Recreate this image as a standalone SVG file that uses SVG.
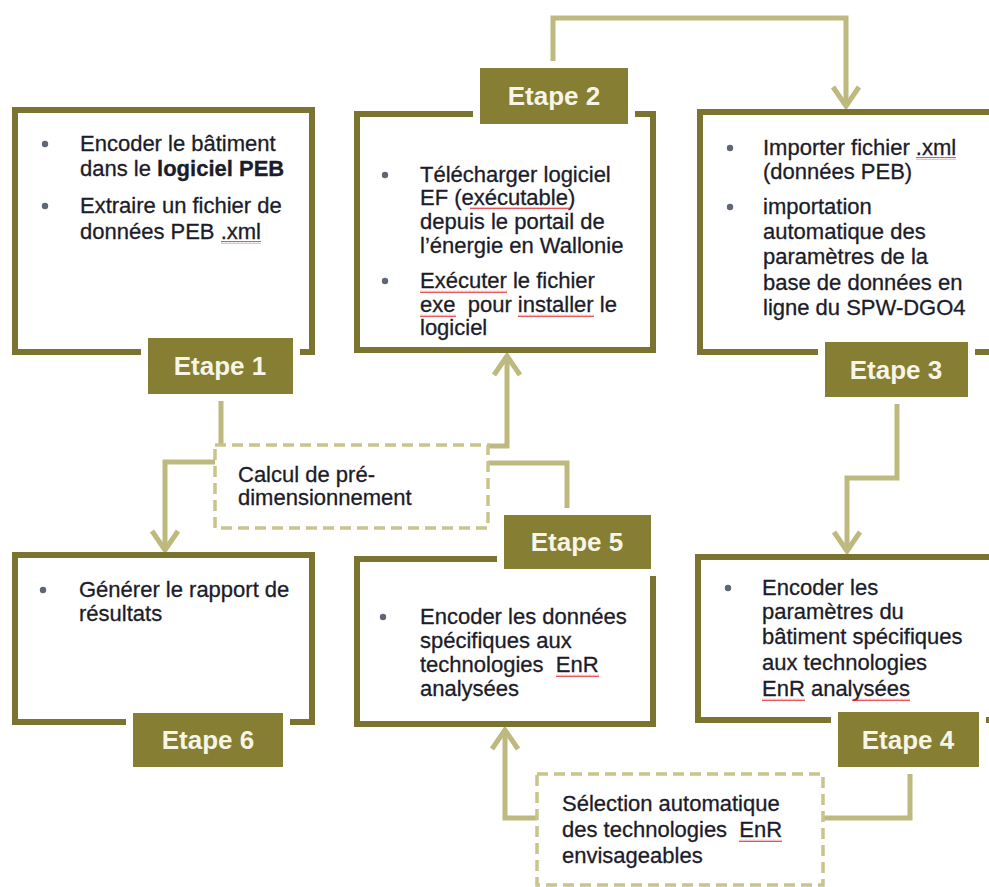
<svg xmlns="http://www.w3.org/2000/svg" width="989" height="887" viewBox="0 0 989 887">
<style>
.box{fill:#ffffff;stroke:#7b7431;stroke-width:6}
.lab{fill:#857e33;stroke:#ffffff;stroke-width:14;paint-order:stroke}
.labt{font-family:"Liberation Sans",Arial,sans-serif;font-weight:bold;font-size:26px;fill:#f7f5e6;text-anchor:middle}
.t{font-family:"Liberation Sans",Arial,sans-serif;font-size:22px;fill:#1c1c2a;stroke:#1c1c2a;stroke-width:0.3;white-space:pre}
.b{fill:#5f6675}
.con{fill:none;stroke:#bdb97f;stroke-width:5;stroke-linejoin:miter}
.dash{fill:#ffffff;stroke:#c8c48a;stroke-width:3.5;stroke-dasharray:11 6}
.sp{fill:url(#wave)}
</style>
<defs>
<marker id="ah" markerUnits="userSpaceOnUse" orient="auto" refX="0" refY="0" markerWidth="1" markerHeight="1" style="overflow:visible">
<path d="M-19,-13 L0,0 L-19,13" fill="none" stroke="#bdb97f" stroke-width="5"/>
</marker>
<pattern id="wave" patternUnits="userSpaceOnUse" width="4" height="3">
<path d="M0,2.2 L1,0.6 L2,2.2 L3,0.6 L4,2.2" fill="none" stroke="#e0373a" stroke-width="0.9"/>
</pattern>
</defs>
<rect width="989" height="887" fill="#ffffff"/>

<g id="connectors">
<path class="con" d="M553,61 V18 H846 V106" marker-end="url(#ah)"/>
<path class="con" d="M897,404 V478 H847 V551" marker-end="url(#ah)"/>
<path class="con" d="M221,401 V445"/>
<path class="con" d="M215,462 H165 V550" marker-end="url(#ah)"/>
<path class="con" d="M488,446 H507 V356" marker-end="url(#ah)"/>
<path class="con" d="M567,508 V463 H488"/>
<path class="con" d="M910,774 V818 H823"/>
<path class="con" d="M537,818 H505 V730" marker-end="url(#ah)"/>
</g>

<g id="calcul">
<rect class="dash" x="215" y="445" width="273" height="83"/>
<text class="t" xml:space="preserve"><tspan x="238" y="482">Calcul de pré-</tspan><tspan x="238" y="505">dimensionnement</tspan></text>
</g>

<g id="selection">
<rect class="dash" x="537" y="774" width="286" height="111"/>
<text class="t" xml:space="preserve"><tspan x="562" y="811">Sélection automatique</tspan><tspan x="562" y="837">des technologies  EnR</tspan><tspan x="562" y="863">envisageables</tspan></text>
<rect class="sp" x="739" y="839" width="43" height="3"/>
</g>

<g id="etape1">
<rect class="box" x="15" y="110" width="297" height="242"/>
<circle class="b" cx="45" cy="144" r="3.2"/>
<circle class="b" cx="45" cy="206" r="3.2"/>
<text class="t" xml:space="preserve"><tspan x="80" y="151">Encoder le bâtiment</tspan><tspan x="80" y="176">dans le <tspan font-weight="bold">logiciel PEB</tspan></tspan><tspan x="80" y="213">Extraire un fichier de</tspan><tspan x="80" y="239">données PEB .xml</tspan></text>
<rect class="sp" x="221" y="241" width="40" height="3"/>
<rect class="lab" x="148" y="338" width="145" height="56"/>
<text class="labt" x="220" y="375">Etape 1</text>
</g>

<g id="etape2">
<rect class="box" x="357" y="114" width="296" height="236"/>
<circle class="b" cx="385" cy="175" r="3.2"/>
<circle class="b" cx="385" cy="281" r="3.2"/>
<text class="t" xml:space="preserve"><tspan x="420" y="182">Télécharger logiciel</tspan><tspan x="420" y="205">EF (exécutable)</tspan><tspan x="420" y="229">depuis le portail de</tspan><tspan x="420" y="253">l’énergie en Wallonie</tspan><tspan x="420" y="288">Exécuter le fichier</tspan><tspan x="420" y="312">exe  pour installer le</tspan><tspan x="420" y="335">logiciel</tspan></text>
<rect class="sp" x="470" y="207" width="100" height="3"/>
<rect class="sp" x="420" y="290" width="87" height="3"/>
<rect class="sp" x="420" y="314" width="36" height="3"/>
<rect class="sp" x="518" y="314" width="76" height="3"/>
<rect class="lab" x="480" y="68" width="148" height="56"/>
<text class="labt" x="554" y="105">Etape 2</text>
</g>

<g id="etape3">
<rect class="box" x="700" y="112" width="300" height="240"/>
<circle class="b" cx="730" cy="148" r="3.2"/>
<circle class="b" cx="730" cy="207" r="3.2"/>
<text class="t" xml:space="preserve"><tspan x="763" y="155">Importer fichier .xml</tspan><tspan x="763" y="179">(données PEB)</tspan><tspan x="763" y="214">importation</tspan><tspan x="763" y="239">automatique des</tspan><tspan x="763" y="264">paramètres de la</tspan><tspan x="763" y="290">base de données en</tspan><tspan x="763" y="315">ligne du SPW-DGO4</tspan></text>
<rect class="sp" x="916" y="157" width="40" height="3"/>
<rect class="lab" x="825" y="342" width="143" height="55"/>
<text class="labt" x="896" y="379">Etape 3</text>
</g>

<g id="etape4">
<rect class="box" x="698" y="557" width="302" height="163"/>
<circle class="b" cx="728" cy="588" r="3.2"/>
<text class="t" xml:space="preserve"><tspan x="762" y="595">Encoder les</tspan><tspan x="762" y="619">paramètres du</tspan><tspan x="762" y="644">bâtiment spécifiques</tspan><tspan x="762" y="670">aux technologies</tspan><tspan x="762" y="696">EnR analysées</tspan></text>
<rect class="sp" x="762" y="698" width="43" height="3"/>
<rect class="sp" x="852" y="698" width="58" height="3"/>
<rect class="lab" x="838" y="712" width="141" height="55"/>
<text class="labt" x="908" y="749">Etape 4</text>
</g>

<g id="etape5">
<rect class="box" x="357" y="559" width="296" height="165"/>
<circle class="b" cx="383" cy="617" r="3.2"/>
<text class="t" xml:space="preserve"><tspan x="420" y="624">Encoder les données</tspan><tspan x="420" y="648">spécifiques aux</tspan><tspan x="420" y="672">technologies  EnR</tspan><tspan x="420" y="696">analysées</tspan></text>
<rect class="sp" x="556" y="674" width="43" height="3"/>
<rect class="lab" x="504" y="515" width="147" height="54"/>
<text class="labt" x="577" y="551">Etape 5</text>
</g>

<g id="etape6">
<rect class="box" x="15" y="555" width="297" height="167"/>
<circle class="b" cx="43" cy="590" r="3.2"/>
<text class="t" xml:space="preserve"><tspan x="79" y="597">Générer le rapport de</tspan><tspan x="79" y="621">résultats</tspan></text>
<rect class="lab" x="133" y="713" width="150" height="54"/>
<text class="labt" x="208" y="749">Etape 6</text>
</g>
</svg>
